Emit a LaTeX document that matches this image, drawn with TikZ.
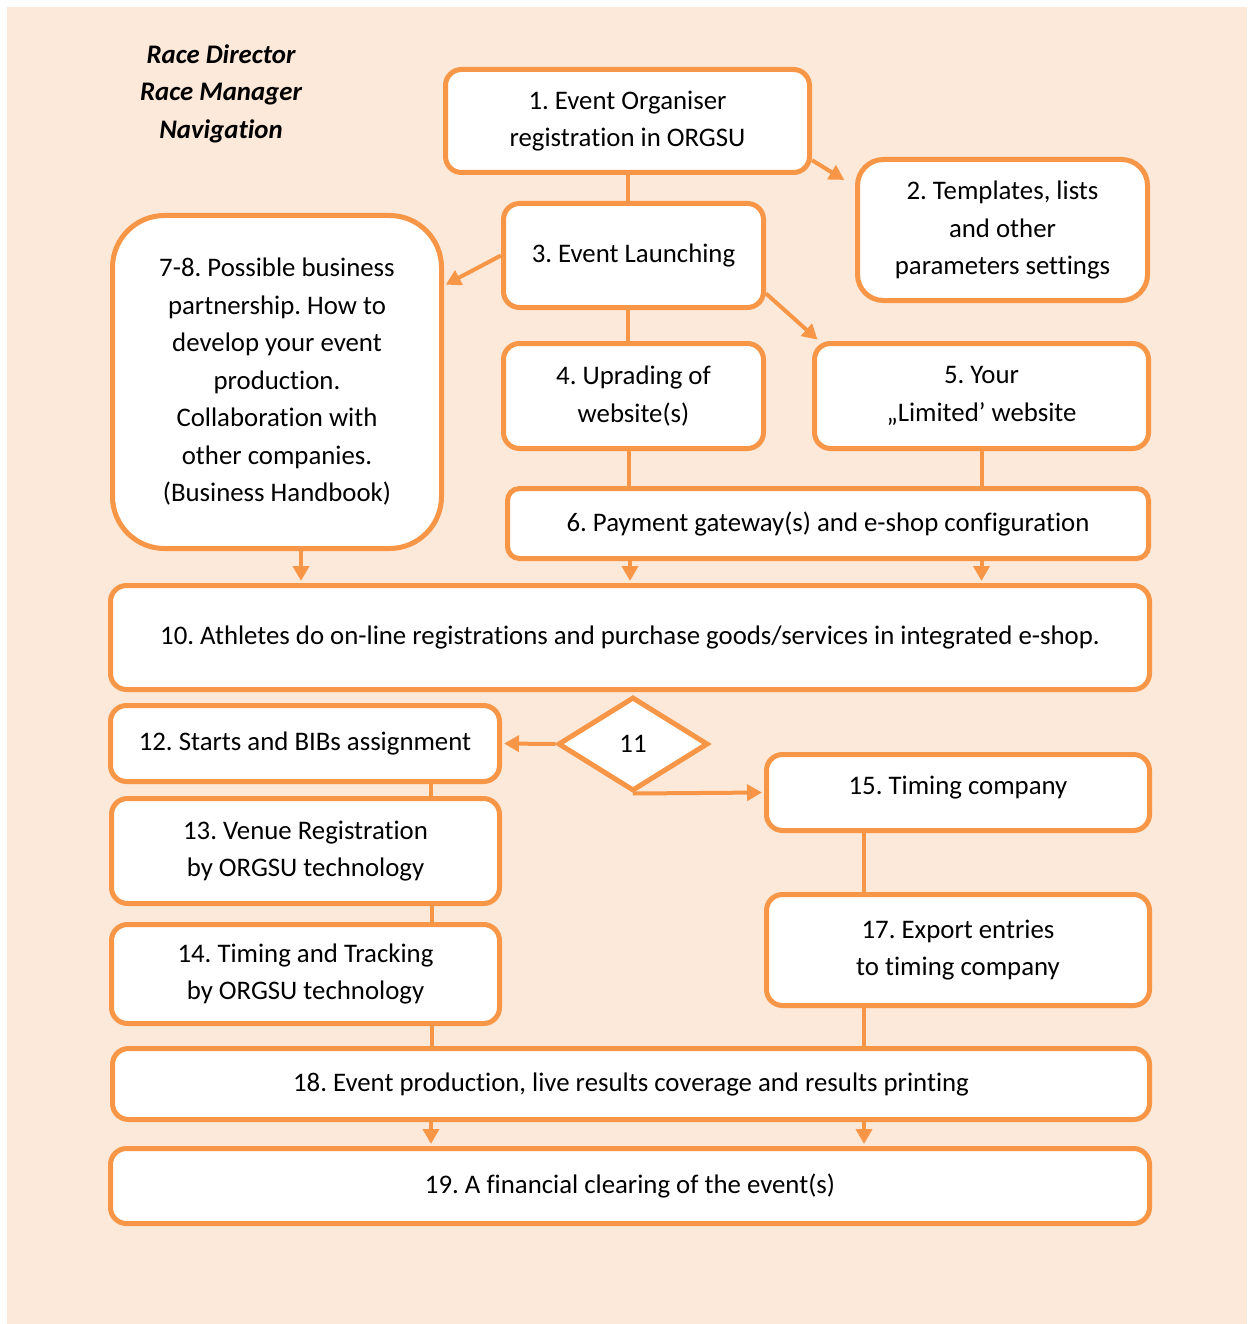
\documentclass[tikz,border=0pt]{standalone}
\usepackage{fontspec}
\setmainfont{Carlito}[RawFeature={-liga;-clig;-dlig;-calt}]
\usetikzlibrary{shapes.geometric,arrows.meta}
\definecolor{orgsuorange}{HTML}{F79646}
\definecolor{orgsupeach}{HTML}{FDE9D9}
\frenchspacing
\begin{document}
\begin{tikzpicture}[x=1pt, y=-1pt,
    box/.style={draw=orgsuorange, line width=5pt, fill=white, rounded corners=16pt,
      align=center, inner sep=0pt, font=\fontsize{26.8}{37.5}\selectfont},
    link/.style={draw=orgsuorange, line width=4pt},
    arrow/.style={link, -{Triangle[length=15pt,width=16pt]}, shorten >=2pt}]
  \useasboundingbox (0,0) rectangle (1247,1324);
  \fill[orgsupeach] (7,7) rectangle (1247,1324);
  \node[align=center, font=\fontsize{26.8}{37.5}\selectfont\bfseries\itshape] (title) at (221,93.5) {Race Director\\Race Manager\\Navigation};
  \node[box, minimum width=364pt, minimum height=103pt] (1) at (627.5,121) {1. Event Organiser\\registration in ORGSU};
  \node[box, rounded corners=26pt, minimum width=290pt, minimum height=141pt] (2) at (1002.5,230) {2. Templates, lists\\and other\\parameters settings};
  \node[box, minimum width=260pt, minimum height=104pt] (3) at (633.5,255.5) {3. Event Launching};
  \node[box, rounded corners=52pt, minimum width=329pt, minimum height=333pt] (78) at (277,382) {7-8. Possible business\\partnership. How to\\develop your event\\production.\\Collaboration with\\other companies.\\(Business Handbook)};
  \node[box, minimum width=260pt, minimum height=105pt] (4) at (633.5,396) {4. Uprading of\\website(s)};
  \node[box, minimum width=334pt, minimum height=105pt] (5) at (981.5,396) {5. Your\\„Limited’ website};
  \node[box, rounded corners=12pt, minimum width=641pt, minimum height=70pt] (6) at (828,523.5) {6. Payment gateway(s) and e-shop configuration};
  \node[box, minimum width=1039pt, minimum height=104pt] (10) at (630,637.5) {10. Athletes do on-line registrations and purchase goods/services in integrated e-shop.};
  \node[box, minimum width=389pt, minimum height=76pt] (12) at (305,743.5) {12. Starts and BIBs assignment};
  \node[box, diamond, rounded corners=0pt, minimum width=150pt, minimum height=94pt] (11) at (633,744) {11};
  \node[box, minimum width=383pt, minimum height=76pt, text depth=14pt] (15) at (958,792.5) {15. Timing company};
  \node[box, minimum width=388pt, minimum height=105pt] (13) at (305.5,851) {13. Venue Registration\\by ORGSU technology};
  \node[box, minimum width=388pt, minimum height=99pt] (14) at (305.5,974) {14. Timing and Tracking\\by ORGSU technology};
  \node[box, minimum width=383pt, minimum height=111pt] (17) at (958,950) {17. Export entries\\to timing company};
  \node[box, minimum width=1037pt, minimum height=71pt] (18) at (631,1084) {18. Event production, live results coverage and results printing};
  \node[box, minimum width=1039pt, minimum height=75pt] (19) at (630,1186) {19. A financial clearing of the event(s)};
  \draw[link] (1) -- (1 |- 3.north);
  \draw[arrow] (1.-12) -- ([xshift=-9pt,yshift=49pt]2.west);
  \draw[arrow] (3.west) -- (78.30);
  \draw[arrow] (3.-16) -- ([xshift=7pt]5.north west);
  \draw[link] ([xshift=-6pt]3.south) -- ([xshift=-6pt]4.north);
  \draw[link] ([xshift=-5pt]4.south) -- ([xshift=-5pt]4.south |- 6.north);
  \draw[link] (5.south) -- (5.south |- 6.north);
  \draw[arrow] ([xshift=24pt]78.south) -- ([xshift=24pt]78.south |- 10.north);
  \draw[arrow] (6.south -| 10.north) -- (10.north);
  \draw[arrow] (6.south -| 5.south) -- (10.north -| 5.south);
  \draw[arrow] (11.west) -- (12.east);
  \draw[arrow] (11.south) -- (15.west);
  \draw[link] ([xshift=126pt]12.south) -- ([xshift=126pt]12.south |- 13.north);
  \draw[link] ([xshift=126pt]13.south) -- ([xshift=126pt]13.south |- 14.north);
  \draw[link] ([xshift=126pt]14.south) -- ([xshift=126pt]14.south |- 18.north);
  \draw[link] ([xshift=-94pt]15.south) -- ([xshift=-94pt]17.north);
  \draw[link] ([xshift=-94pt]17.south) -- ([xshift=-94pt]17.south |- 18.north);
  \draw[arrow] ([xshift=-200pt]18.south) -- ([xshift=-200pt]18.south |- 19.north);
  \draw[arrow] ([xshift=233pt]18.south) -- ([xshift=233pt]18.south |- 19.north);
\end{tikzpicture}
\end{document}
